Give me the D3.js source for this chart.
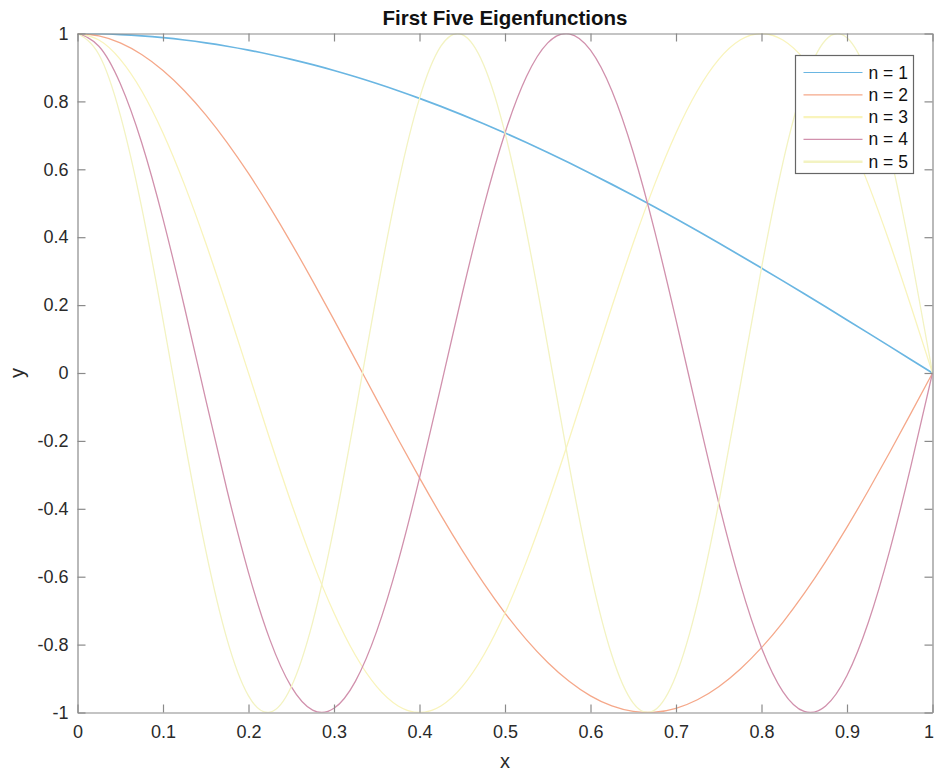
<!DOCTYPE html>
<html>
<head>
<meta charset="utf-8">
<script src="https://cdn.jsdelivr.net/npm/d3@7"></script>
<style>
  html, body { margin: 0; padding: 0; background: #fff; }
  svg { display: block; font-family: "Liberation Sans", Arial, sans-serif; }
</style>
</head>
<body>
<svg id="chart" width="935" height="771"></svg>
<script>
// Sample positions along x
const xs = [0, 0.025, 0.05, 0.075, 0.1, 0.125, 0.15, 0.175, 0.2, 0.225, 0.25, 0.275, 0.3, 0.325, 0.35, 0.375, 0.4,
  0.425, 0.45, 0.475, 0.5, 0.525, 0.55, 0.575, 0.6, 0.625, 0.65, 0.675, 0.7, 0.725, 0.75, 0.775, 0.8,
  0.825, 0.85, 0.875, 0.9, 0.925, 0.95, 0.975, 1];

// Eigenfunction values at each sample
const y1 = [1, 0.9992, 0.9969, 0.9931, 0.9877, 0.9808, 0.9724, 0.9625, 0.9511, 0.9382, 0.9239, 0.9082, 0.8910,
  0.8725, 0.8526, 0.8315, 0.8090, 0.7853, 0.7604, 0.7343, 0.7071, 0.6788, 0.6494, 0.6191, 0.5878, 0.5556,
  0.5225, 0.4886, 0.4540, 0.4187, 0.3827, 0.3461, 0.3090, 0.2714, 0.2334, 0.1951, 0.1564, 0.1175, 0.0785, 0.0393, 0];
const y2 = [1, 0.9931, 0.9724, 0.9382, 0.8910, 0.8315, 0.7604, 0.6788, 0.5878, 0.4886, 0.3827, 0.2714, 0.1564,
  0.0393, -0.0785, -0.1951, -0.3090, -0.4187, -0.5225, -0.6191, -0.7071, -0.7853, -0.8526, -0.9082, -0.9511,
  -0.9808, -0.9969, -0.9992, -0.9877, -0.9625, -0.9239, -0.8725, -0.8090, -0.7343, -0.6494, -0.5556, -0.4540,
  -0.3461, -0.2334, -0.1175, 0];
const y3 = [1, 0.9808, 0.9239, 0.8315, 0.7071, 0.5556, 0.3827, 0.1951, 0, -0.1951, -0.3827, -0.5556, -0.7071,
  -0.8315, -0.9239, -0.9808, -1, -0.9808, -0.9239, -0.8315, -0.7071, -0.5556, -0.3827, -0.1951, 0, 0.1951,
  0.3827, 0.5556, 0.7071, 0.8315, 0.9239, 0.9808, 1, 0.9808, 0.9239, 0.8315, 0.7071, 0.5556, 0.3827, 0.1951, 0];
const y4 = [1, 0.9625, 0.8526, 0.6788, 0.4540, 0.1951, -0.0785, -0.3461, -0.5878, -0.7853, -0.9239, -0.9931,
  -0.9877, -0.9082, -0.7604, -0.5556, -0.3090, -0.0393, 0.2334, 0.4886, 0.7071, 0.8725, 0.9724, 0.9992, 0.9511,
  0.8315, 0.6494, 0.4187, 0.1564, -0.1175, -0.3827, -0.6191, -0.8090, -0.9382, -0.9969, -0.9808, -0.8910,
  -0.7343, -0.5225, -0.2714, 0];
const y5 = [1, 0.9382, 0.7604, 0.4886, 0.1564, -0.1951, -0.5225, -0.7853, -0.9511, -0.9992, -0.9239, -0.7343,
  -0.4540, -0.1175, 0.2334, 0.5556, 0.8090, 0.9625, 0.9969, 0.9082, 0.7071, 0.4187, 0.0785, -0.2714, -0.5878,
  -0.8315, -0.9724, -0.9931, -0.8910, -0.6788, -0.3827, -0.0393, 0.3090, 0.6191, 0.8526, 0.9808, 0.9877,
  0.8725, 0.6494, 0.3461, 0];

const seriesNames = ["n = 1", "n = 2", "n = 3", "n = 4", "n = 5"];
const seriesValues = [y1, y2, y3, y4, y5];
const seriesColors = ["#6ab6e2", "#f5a88a", "#f9f4bc", "#d191ad", "#f3f3c2"];

const xTicks = [0, 0.1, 0.2, 0.3, 0.4, 0.5, 0.6, 0.7, 0.8, 0.9, 1];
const yTicks = [-1, -0.8, -0.6, -0.4, -0.2, 0, 0.2, 0.4, 0.6, 0.8, 1];

const svg = d3.select("#chart");
const plotLeft = 77.5, plotRight = 932.5, plotTop = 33.5, plotBottom = 712.5;

const x = d3.scaleLinear().domain([0, 1]).range([plotLeft, plotRight]);
const y = d3.scaleLinear().domain([-1, 1]).range([plotBottom, plotTop]);

const axisColor = "#8a8a8a";
const textColor = "#2a2a2a";

// clip so curves stay inside the axes box
svg.append("defs").append("clipPath").attr("id", "plotClip")
  .append("rect").attr("x", plotLeft).attr("y", plotTop)
  .attr("width", plotRight - plotLeft).attr("height", plotBottom - plotTop);

// curves
const line = d3.line()
  .x((d, i) => x(xs[i]))
  .y(d => y(d))
  .curve(d3.curveNatural);

const curves = svg.append("g").attr("clip-path", "url(#plotClip)");
seriesValues.forEach((vals, k) => {
  curves.append("path")
    .datum(vals)
    .attr("d", line)
    .attr("fill", "none")
    .attr("stroke", seriesColors[k])
    .attr("stroke-width", k === 0 ? 1.7 : 1.3);
});

// axes (ticks point inward on all four sides)
const tickLen = 8;
const fmt = d => String(d);

const xAxisBottom = d3.axisBottom(x).tickValues(xTicks).tickFormat(fmt).tickSizeInner(-tickLen).tickSizeOuter(0).tickPadding(13);
const xAxisTop = d3.axisTop(x).tickValues(xTicks).tickFormat("").tickSizeInner(-tickLen).tickSizeOuter(0);
const yAxisLeft = d3.axisLeft(y).tickValues(yTicks).tickFormat(fmt).tickSizeInner(-tickLen).tickSizeOuter(0).tickPadding(9);
const yAxisRight = d3.axisRight(y).tickValues(yTicks).tickFormat("").tickSizeInner(-tickLen).tickSizeOuter(0);

function styleAxis(g) {
  g.select(".domain").attr("stroke", axisColor).attr("stroke-width", 1.2);
  g.selectAll(".tick line").attr("stroke", axisColor).attr("stroke-width", 1.2);
  g.selectAll(".tick text").attr("fill", textColor).attr("font-size", 18)
    .attr("font-family", "Liberation Sans, Arial, sans-serif");
}

const bottomAxis = svg.append("g").attr("transform", `translate(0,${plotBottom})`).call(xAxisBottom).call(styleAxis);
// keep the last label inside the page
bottomAxis.selectAll(".tick text").filter(d => d === 1).attr("dx", -4);
svg.append("g").attr("transform", `translate(0,${plotTop})`).call(xAxisTop).call(styleAxis);
svg.append("g").attr("transform", `translate(${plotLeft},0)`).call(yAxisLeft).call(styleAxis);
svg.append("g").attr("transform", `translate(${plotRight},0)`).call(yAxisRight).call(styleAxis);

// title and axis labels
svg.append("text").attr("x", (plotLeft + plotRight) / 2).attr("y", 25).attr("text-anchor", "middle")
  .attr("font-size", 20.5).attr("font-weight", "bold").attr("fill", "#111").text("First Five Eigenfunctions");
svg.append("text").attr("x", (plotLeft + plotRight) / 2).attr("y", 768).attr("text-anchor", "middle")
  .attr("font-size", 20).attr("fill", textColor).text("x");
svg.append("text").attr("transform", `translate(24,${(plotTop + plotBottom) / 2}) rotate(-90)`).attr("text-anchor", "middle")
  .attr("font-size", 20).attr("fill", textColor).text("y");

// legend
const lg = svg.append("g");
const lgX = 795.5, lgY = 55.5, lgW = 118, lgH = 118;
lg.append("rect").attr("x", lgX).attr("y", lgY).attr("width", lgW).attr("height", lgH)
  .attr("fill", "#fff").attr("stroke", "#666").attr("stroke-width", 1.2);
seriesNames.forEach((name, k) => {
  const cy = lgY + 17 + k * 22.3;
  lg.append("line").attr("x1", lgX + 8).attr("x2", lgX + 67).attr("y1", cy).attr("y2", cy)
    .attr("stroke", seriesColors[k]).attr("stroke-width", k === 2 || k === 4 ? 2.4 : 1.2);
  lg.append("text").attr("x", lgX + 73).attr("y", cy + 6).attr("font-size", 17.5).attr("fill", "#111").text(name);
});
</script>
</body>
</html>
